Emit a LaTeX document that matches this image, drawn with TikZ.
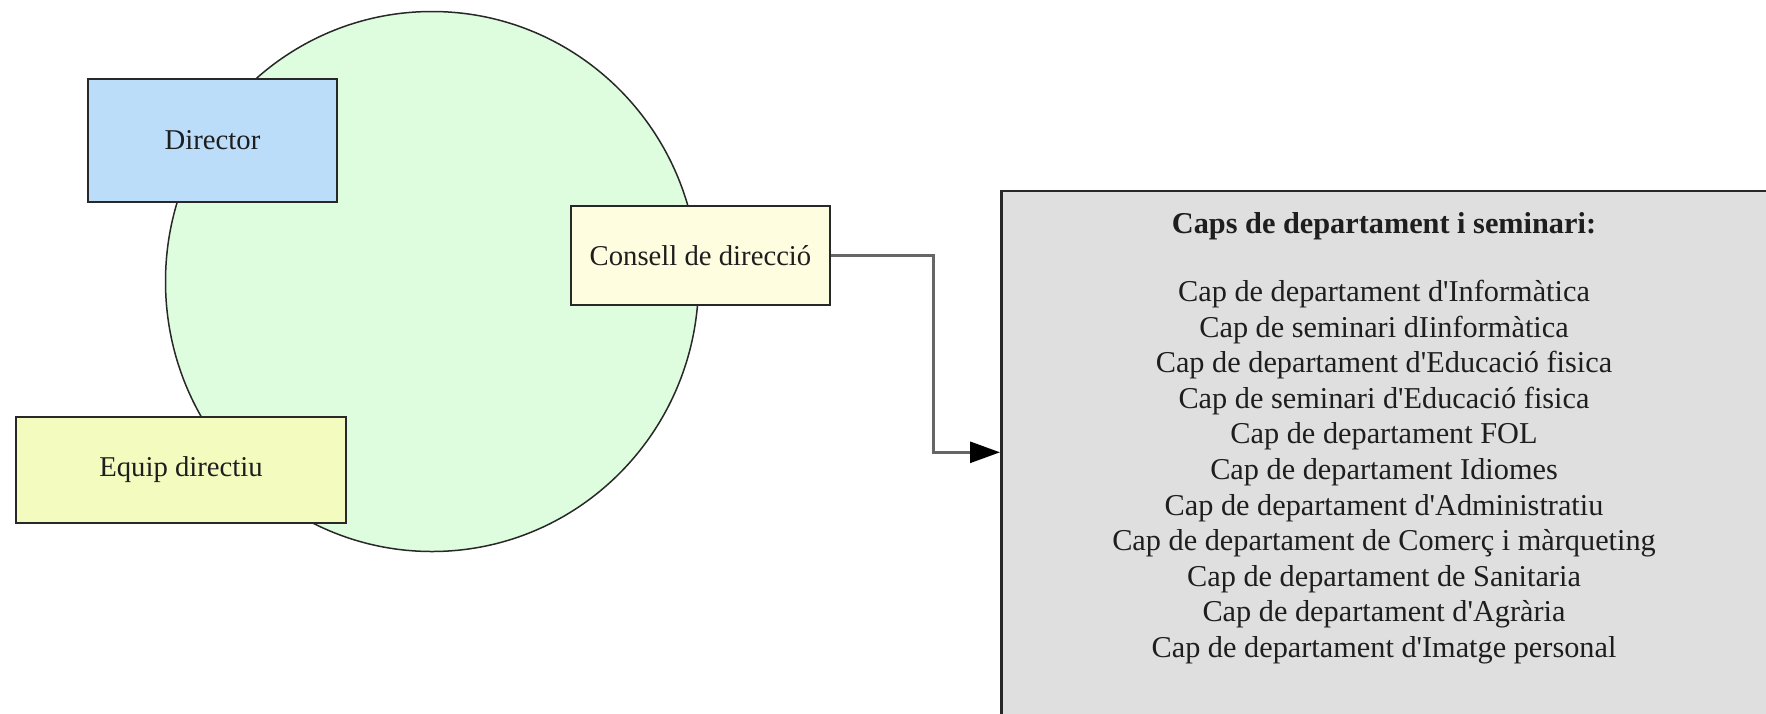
\documentclass[tikz,border=0pt]{standalone}
\usepackage{fontspec}
\setmainfont{Liberation Serif}
\usetikzlibrary{shapes.geometric,arrows.meta}
\definecolor{ringfill}{RGB}{222,252,222}
\definecolor{dirfill}{RGB}{188,221,250}
\definecolor{consfill}{RGB}{255,253,224}
\definecolor{equipfill}{RGB}{244,251,190}
\definecolor{capsfill}{RGB}{223,223,223}
\definecolor{edge}{RGB}{40,40,40}
\definecolor{txt}{RGB}{30,30,30}
\newcommand\straightapos{\XeTeXglyph\XeTeXcharglyph"27\relax}
\begin{document}
\begin{tikzpicture}[x=1pt,y=-1pt,
  every node/.style={font=\fontsize{28.7pt}{35.5pt}\selectfont, text=txt},
  box/.style={draw=edge, line width=2pt, rectangle, inner sep=0pt},
  conn/.style={draw=gray!80!black, line width=2.8pt},
  capsline/.style={anchor=base, inner sep=0pt, font=\fontsize{30.3pt}{35.5pt}\selectfont}]
\useasboundingbox (0,0) rectangle (1766,713);
\clip (0,0) rectangle (1766,713);
\node[ellipse, draw=edge, line width=1.5pt, fill=ringfill, minimum width=533pt, minimum height=540pt, inner sep=0pt] (ring) at (432,281.5) {};
\node[box, fill=dirfill, minimum width=249pt, minimum height=123pt] (director) at (212.5,140.5) {Director};
\node[box, fill=consfill, minimum width=259pt, minimum height=99pt] (consell) at (700.5,255.5) {Consell de direcció};
\node[box, fill=equipfill, minimum width=330pt, minimum height=106pt] (equip) at (181,470) {Equip directiu};
\node[box, fill=capsfill, line width=2.5pt, anchor=north west, minimum width=800pt, minimum height=560pt] (caps) at (1000,189.5) {};
\node[capsline, font=\bfseries\fontsize{30.3pt}{35.5pt}\selectfont] (capstitle) at (1384,233) {Caps de departament i seminari:};
\foreach \t [count=\i] in {Cap de departament d\straightapos Informàtica,
  Cap de seminari dIinformàtica,
  Cap de departament d\straightapos Educació fisica,
  Cap de seminari d\straightapos Educació fisica,
  Cap de departament FOL,
  Cap de departament Idiomes,
  Cap de departament d\straightapos Administratiu,
  Cap de departament de Comerç i màrqueting,
  Cap de departament de Sanitaria,
  Cap de departament d\straightapos Agrària,
  Cap de departament d\straightapos Imatge personal}
  \node[capsline] (line\i) at (1384,{301.7+(\i-1)*35.55}) {\t};
\coordinate (bend) at (933.3,452.3);
\draw[conn, -{Triangle[length=30pt,width=21pt,color=black]}] (consell.east) -| (bend) -- (bend -| caps.west);
\end{tikzpicture}
\end{document}
